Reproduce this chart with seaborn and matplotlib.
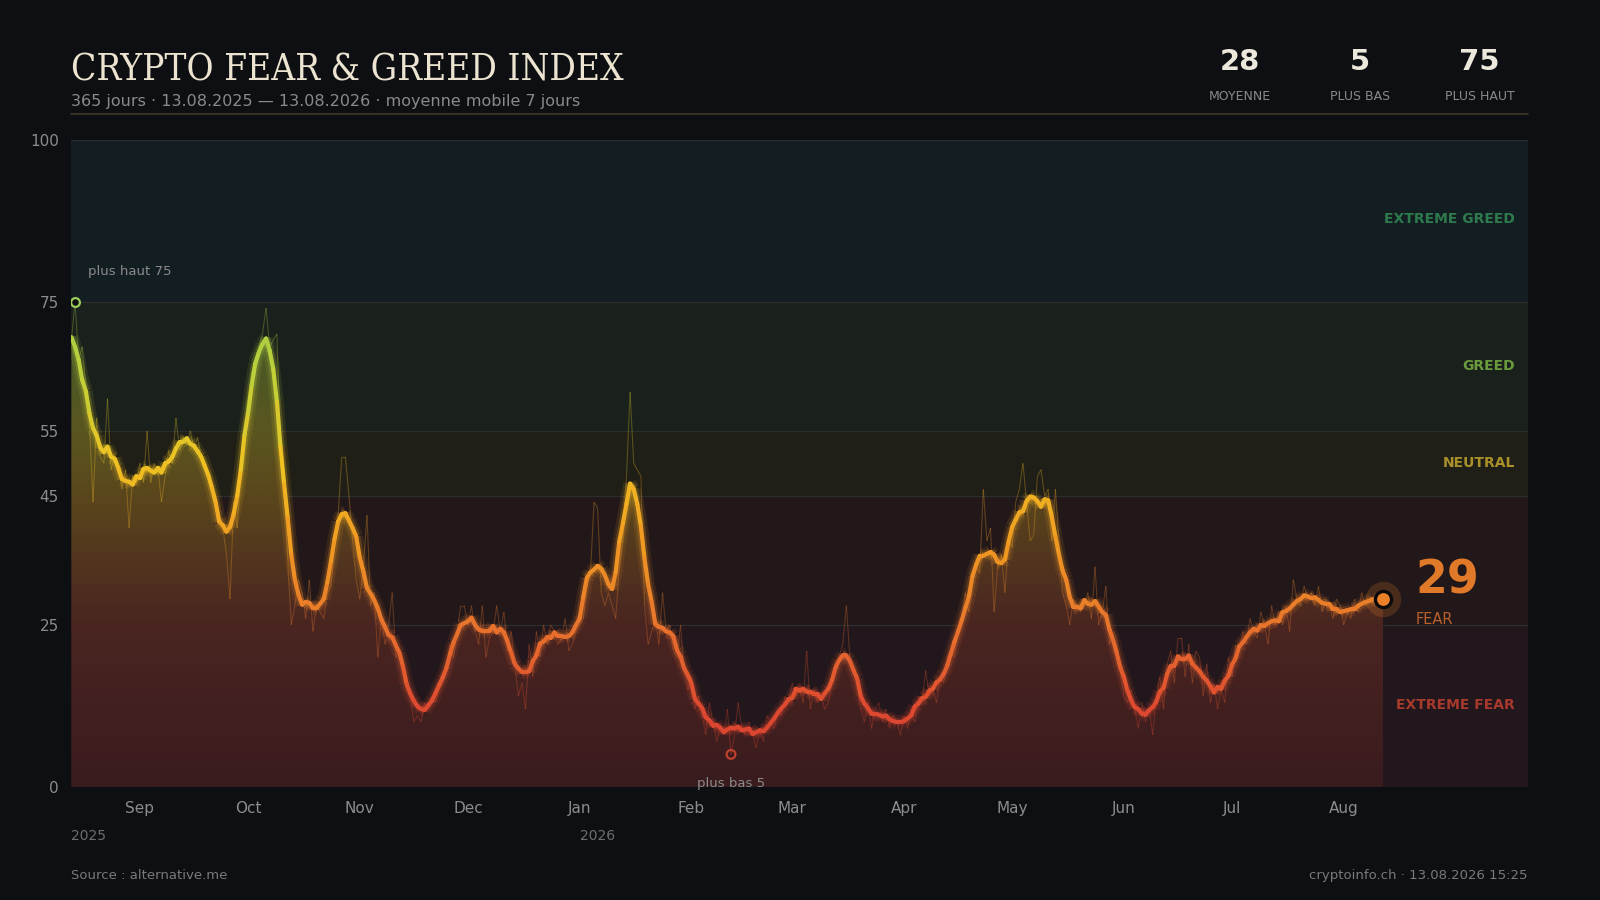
import numpy as np
import pandas as pd
import matplotlib
matplotlib.use("Agg")
import matplotlib.pyplot as plt
import matplotlib.dates as mdates
from matplotlib.collections import LineCollection
from matplotlib.colors import LinearSegmentedColormap, Normalize
from matplotlib import transforms
import seaborn as sns

# --- data (daily Fear & Greed values) ---
start_date = "2025-08-13"
fg_daily = [
    69, 75, 66, 68, 62, 56, 44,
    57, 51, 50, 60, 49, 51, 50,
    46, 49, 40, 48, 47, 50, 47,
    55, 47, 50, 49, 44, 48, 52,
    50, 57, 52, 54, 53, 55, 52,
    54, 51, 50, 48, 47, 45, 42,
    40, 36, 29, 44, 40, 50, 56,
    60, 64, 66, 68, 70, 74, 68,
    69, 70, 53, 48, 35, 25, 28,
    32, 30, 26, 32, 24, 28, 27,
    26, 30, 31, 37, 42, 51, 51,
    45, 38, 32, 29, 34, 42, 28,
    30, 20, 26, 22, 25, 30, 20,
    21, 18, 17, 14, 10, 11, 10,
    13, 12, 14, 13, 15, 16, 18,
    22, 20, 24, 28, 28, 25, 28,
    24, 22, 28, 20, 23, 24, 28,
    24, 27, 21, 24, 19, 14, 16,
    12, 22, 17, 24, 20, 25, 22,
    25, 24, 22, 23, 26, 21, 22,
    24, 25, 26, 31, 33, 44, 43,
    30, 28, 30, 28, 26, 34, 38,
    48, 61, 50, 49, 48, 28, 22,
    24, 26, 22, 30, 24, 25, 21,
    20, 25, 18, 15, 17, 12, 14,
    11, 8, 13, 10, 7, 9, 8,
    12, 5, 8, 13, 9, 8, 10,
    8, 6, 9, 7, 11, 10, 9,
    12, 11, 14, 13, 16, 14, 15,
    13, 21, 12, 15, 13, 14, 12,
    13, 16, 18, 20, 22, 28, 20,
    18, 16, 12, 10, 13, 9, 12,
    13, 10, 12, 9, 11, 10, 8,
    11, 9, 12, 10, 14, 13, 18,
    14, 15, 13, 17, 16, 20, 21,
    20, 24, 26, 30, 27, 32, 34,
    33, 46, 38, 40, 27, 34, 36,
    30, 38, 37, 44, 46, 50, 44,
    38, 39, 48, 49, 45, 46, 38,
    46, 38, 30, 28, 25, 29, 28,
    27, 28, 30, 26, 34, 25, 27,
    31, 22, 24, 23, 18, 14, 13,
    15, 12, 9, 13, 10, 12, 8,
    14, 17, 12, 19, 21, 16, 23,
    23, 17, 22, 16, 21, 20, 14,
    19, 13, 16, 12, 15, 13, 20,
    17, 22, 21, 24, 22, 26, 24,
    23, 27, 25, 22, 28, 25, 27,
    25, 28, 24, 32, 29, 28, 31,
    29, 30, 28, 31, 27, 29, 28,
    26, 29, 28, 25, 27, 26, 29,
    27, 30, 28, 29, 29, 28, 30,
    29,
]

zone_bounds = [0, 25, 45, 55, 75, 100]
zone_names = ["EXTREME FEAR", "FEAR", "NEUTRAL", "GREED", "EXTREME GREED"]
zone_fill = ["#2a1a20", "#2a1c1e", "#262419", "#1f2620", "#16242a"]
zone_text = ["#a8392d", "#b8602c", "#a8902a", "#6a9a3c", "#2d7a4c"]
y_ticks = [0, 25, 45, 55, 75, 100]

subtitle = "365 jours · 13.08.2025 — 13.08.2026 · moyenne mobile 7 jours"
source_txt = "Source : alternative.me"
stamp_txt = "cryptoinfo.ch · 13.08.2026 15:25"

# --- prep ---
dates = pd.date_range(start_date, periods=len(fg_daily), freq="D")
df = pd.DataFrame({"date": dates, "value": fg_daily})
df["ma7"] = df["value"].rolling(7, center=True, min_periods=1).mean()
xnum = mdates.date2num(df["date"])

mean_val = int(round(df["value"].mean()))
min_val = int(df["value"].min())
max_val = int(df["value"].max())
last_val = int(df["value"].iloc[-1])
i_min = int(df["value"].idxmin())
i_max = int(df["value"].idxmax())

bg = "#0d0f12"
sns.set_theme(style="dark", rc={"axes.facecolor": bg, "figure.facecolor": bg,
                                "text.color": "#8a8a8a"})
plt.rcParams["font.family"] = ["DejaVu Sans"]

line_cmap = sns.blend_palette(["#d23c2e", "#de4a30", "#e8742c", "#f09a22", "#f0c222",
                               "#c0d038", "#a0cc48", "#58b860", "#2ea070"], as_cmap=True)
fill_cmap = LinearSegmentedColormap.from_list("fill", [
    (0.0, "#3a1b1e"), (0.25, "#4a2521"), (0.45, "#5a461c"),
    (0.55, "#5a5620"), (0.75, "#3e5a2a"), (1.0, "#2a5040")])
norm = Normalize(0, 100)

W, H = 1568, 882
def fx(px):
    return px / W
def fy(py):
    return 1 - py / H

fig = plt.figure(figsize=(16, 9), dpi=100)
ax = fig.add_axes([fx(70), fy(771), fx(1497) - fx(70), fy(137) - fy(771)])

x_left = xnum[0]
x_right = xnum[0] + 404
# zone bands
for lo, hi, c in zip(zone_bounds[:-1], zone_bounds[1:], zone_fill):
    ax.axhspan(lo, hi, color=c, alpha=0.75, lw=0, zorder=0)
for b in zone_bounds[1:]:
    ax.axhline(b, color="#2c2e2e", lw=0.9, zorder=1)

# gradient fill under the moving average
poly = ax.fill_between(xnum, df["ma7"], 0, color="none", lw=0)
grad = fill_cmap(np.linspace(0, 1, 256))[:, None, :]
im = ax.imshow(grad, extent=[x_left, xnum[-1], 0, 100], origin="lower",
               aspect="auto", zorder=2, interpolation="bilinear")
im.set_clip_path(poly.get_paths()[0], transform=ax.transData)

# raw daily values (thin, faint)
pts = np.column_stack([xnum, df["value"]])
segs = np.stack([pts[:-1], pts[1:]], axis=1)
seg_val = (df["value"].values[:-1] + df["value"].values[1:]) / 2
raw_lc = LineCollection(segs, colors=line_cmap(norm(seg_val)), lw=0.8, alpha=0.3, zorder=3)
ax.add_collection(raw_lc)

# moving average with glow
pts = np.column_stack([xnum, df["ma7"]])
segs = np.stack([pts[:-1], pts[1:]], axis=1)
seg_val = (df["ma7"].values[:-1] + df["ma7"].values[1:]) / 2
cols = line_cmap(norm(seg_val))
for lw, a, cap in [(10, 0.11, "butt"), (6, 0.22, "butt"), (3.0, 1.0, "round")]:
    lc = LineCollection(segs, colors=cols, lw=lw, alpha=a, zorder=4, capstyle=cap,
                        joinstyle="round")
    ax.add_collection(lc)

# end point
end_col = line_cmap(norm(df["ma7"].iloc[-1]))
ax.scatter(xnum[-1], df["ma7"].iloc[-1], s=650, color=end_col, alpha=0.2, lw=0, zorder=5)
ax.scatter(xnum[-1], df["ma7"].iloc[-1], s=135, color=end_col, edgecolor="#0b0b0b",
           lw=2.4, zorder=6)

# high / low markers
ax.scatter(xnum[i_max], max_val, s=40, facecolor=bg, edgecolor="#9ccc5a", lw=1.6, zorder=6)
ax.text(xnum[i_max] + 3.5, max_val + 4.6, f"plus haut {max_val}", color="#8a8a8a",
        fontsize=9.5, ha="left", va="center", zorder=7)
ax.scatter(xnum[i_min], min_val, s=40, facecolor="none", edgecolor="#c0402e", lw=1.6, zorder=6)
ax.text(xnum[i_min], 0.5, f"plus bas {min_val}", color="#8a8a8a",
        fontsize=9.5, ha="center", va="center", zorder=7)

# zone labels on the right
label_y = {"EXTREME GREED": 87.7, "GREED": 65, "NEUTRAL": 50, "EXTREME FEAR": 12.6}
for name, c in zip(zone_names, zone_text):
    if name in label_y:
        ax.text(x_right - 3.5, label_y[name], name, color=c, fontsize=10,
                fontweight="bold", ha="right", va="center", zorder=7)

# current value callout
fear_name = zone_names[np.searchsorted(zone_bounds, last_val, side="right") - 1]
ax.text(xnum[-1] + 9, 31.8, f"{last_val}", color="#e07a28", fontsize=33,
        fontweight="bold", ha="left", va="center", zorder=7)
ax.text(xnum[-1] + 9, 25.8, fear_name, color="#b8602c", fontsize=10.5,
        ha="left", va="center", zorder=7)

# axes styling
ax.set_xlim(x_left, x_right)
ax.set_ylim(0, 100)
ax.set_yticks(y_ticks)
months = pd.date_range(dates[0] + pd.offsets.MonthBegin(1), dates[-1], freq="MS")
ax.set_xticks(mdates.date2num(months))
ax.xaxis.set_major_formatter(mdates.DateFormatter("%b"))
ax.tick_params(axis="both", length=0, colors="#8c8c8c", labelsize=11)
ax.tick_params(axis="x", pad=10)
ax.tick_params(axis="y", pad=9)
ax.grid(False)
ax.set_xlabel("")
ax.set_ylabel("")
sns.despine(ax=ax, left=True, bottom=True)

# year labels
trans = transforms.blended_transform_factory(ax.transData, ax.transAxes)
ax.text(x_left, -0.0757, str(dates[0].year), transform=trans, color="#6e6e6e",
        fontsize=10, ha="left", va="center")
for m in months:
    if m.month == 1:
        ax.text(mdates.date2num(m), -0.0757, str(m.year), transform=trans,
                color="#6e6e6e", fontsize=10, ha="left", va="center")

# header
fig.text(fx(70), fy(69), "CRYPTO FEAR & GREED INDEX", family="DejaVu Serif",
         fontstretch="condensed", fontsize=26.5, color="#ece4d0", ha="left", va="center")
fig.text(fx(70), fy(99), subtitle, fontsize=11.5, color="#8a8a8a", ha="left", va="center")
fig.add_artist(plt.Line2D([fx(70), fx(1497)], [fy(112), fy(112)], color="#3e3828", lw=1.2))

for cx, val, lab in [(1215, mean_val, "MOYENNE"), (1333, min_val, "PLUS BAS"),
                     (1450, max_val, "PLUS HAUT")]:
    fig.text(fx(cx), fy(61), f"{val}", fontsize=21, fontweight="bold", color="#ece8dc",
             ha="center", va="center")
    fig.text(fx(cx), fy(95), lab, fontsize=9, color="#8a8a8a", ha="center", va="center")

# footer
fig.text(fx(70), fy(858), source_txt, fontsize=9.5, color="#7a7a7a", ha="left", va="center")
fig.text(fx(1497), fy(858), stamp_txt, fontsize=9.5, color="#7a7a7a", ha="right", va="center")

fig.savefig("out.png", dpi=100, facecolor=bg)
